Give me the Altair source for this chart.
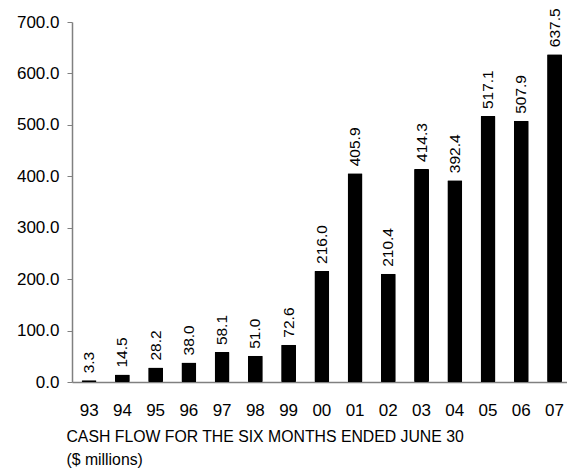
import altair as alt
import pandas as pd

years = ["93", "94", "95", "96", "97", "98", "99", "00", "01", "02", "03", "04", "05", "06", "07"]
values = [3.3, 14.5, 28.2, 38.0, 58.1, 51.0, 72.6, 216.0, 405.9, 210.4, 414.3, 392.4, 517.1, 507.9, 637.5]

df = pd.DataFrame({"year": years, "value": values})

FONT = "Liberation Sans"

x = alt.X("year:N", sort=years,
          scale=alt.Scale(paddingInner=0.55, paddingOuter=0.22, align=0.66),
          axis=alt.Axis(title=None, labelAngle=0, ticks=False, labelPadding=20,
                        labelFontSize=17, labelFont=FONT, labelColor="black",
                        domainColor="#808080", domainWidth=1.5))
y = alt.Y("value:Q", scale=alt.Scale(domain=[0, 700], nice=False),
          axis=alt.Axis(title=None, values=[0, 100, 200, 300, 400, 500, 600, 700],
                        format=".1f", grid=False, tickSize=5, tickColor="#808080",
                        domainColor="#808080", domainWidth=1.5, labelPadding=8,
                        labelFontSize=17, labelFont=FONT, labelColor="black"))

base = alt.Chart(df)
bars = base.mark_bar(color="black", cornerRadius=1).encode(x=x, y=y)
labels = base.mark_text(angle=270, align="left", baseline="middle", dx=7,
                        fontSize=15.5, font=FONT, color="black").encode(
    x=alt.X("year:N", sort=years), y="value:Q", text=alt.Text("value:Q", format=".1f"))

chart = (bars + labels).properties(
    width=495, height=360,
    padding={"left": 72, "top": 22, "right": 0, "bottom": 87},
    autosize="none",
    title=alt.TitleParams(text=["CASH FLOW FOR THE SIX MONTHS ENDED JUNE 30", "\u00a0($ millions)"],
                          orient="bottom", anchor="start", dx=50, offset=12,
                          fontSize=15.8, font=FONT, fontWeight="normal", color="black",
                          lineHeight=23)
).configure_view(stroke=None)

chart.save("out.html", embed_options={"renderer": "svg", "actions": False})
